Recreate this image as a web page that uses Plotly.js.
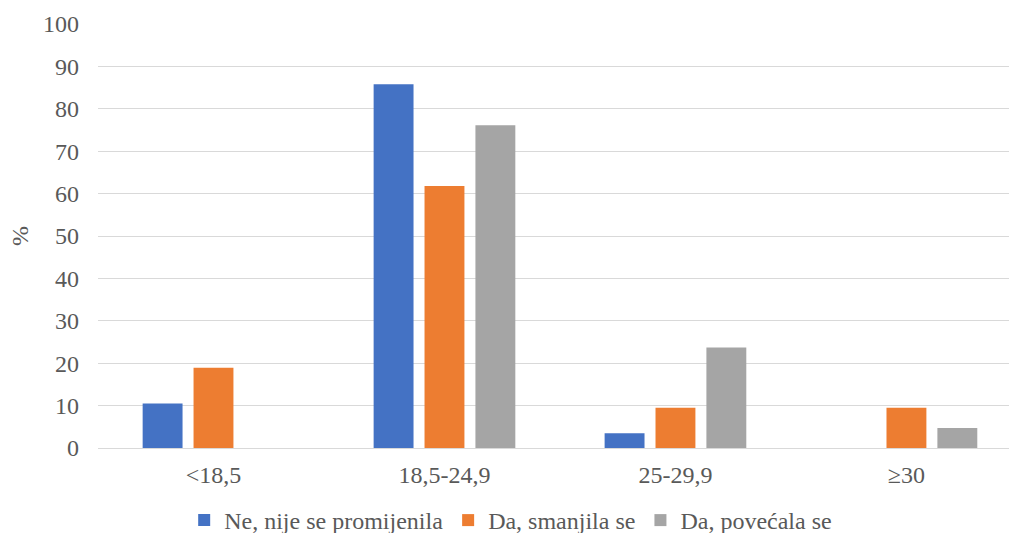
<!DOCTYPE html>
<html>
<head>
<meta charset="utf-8">
<script src="https://cdn.plot.ly/plotly-3.0.1.min.js"></script>
<style>html,body{margin:0;padding:0;background:#fff;overflow:hidden}#chart{width:1009px;height:533px}</style>
</head>
<body>
<div id="chart"></div>
<script>
const categories = ['<18,5', '18,5-24,9', '25-29,9', '≥30'];
const seriesNames = ['Ne, nije se promijenila', 'Da, smanjila se', 'Da, povećala se'];
const neNijeSePromijenila = [10.5, 85.8, 3.5, null];
const daSmanjilaSe = [18.9, 61.8, 9.5, 9.5];
const daPovecalaSe = [null, 76.1, 23.7, 4.7];
const yTicks = [0, 10, 20, 30, 40, 50, 60, 70, 80, 90, 100];
const colors = ['#4472c4', '#ed7d31', '#a5a5a5'];

const seriesValues = [neNijeSePromijenila, daSmanjilaSe, daPovecalaSe];
const traces = seriesValues.map((vals, i) => ({
  type: 'bar',
  name: seriesNames[i],
  x: categories,
  y: vals,
  marker: {color: colors[i]},
  hoverinfo: 'x+y+name'
}));

const font = {family: 'Liberation Serif, Times New Roman, serif', size: 24, color: '#595959'};

const layout = {
  width: 1009,
  height: 533,
  margin: {l: 98, r: 0, t: 24, b: 85, pad: 0, autoexpand: false},
  paper_bgcolor: '#ffffff',
  plot_bgcolor: '#ffffff',
  font: font,
  barmode: 'group',
  bargap: 0.339,
  bargroupgap: 0.216,
  xaxis: {
    type: 'category',
    range: [-0.5, 3.444],
    showgrid: false,
    showline: false,
    ticks: '',
    ticklabelstandoff: 10,
    tickfont: font,
    fixedrange: true,
    automargin: false
  },
  yaxis: {
    range: [0, 100],
    tickvals: yTicks,
    ticktext: yTicks.map(String),
    showgrid: true,
    gridcolor: '#d9d9d9',
    gridwidth: 1,
    zeroline: true,
    zerolinecolor: '#d9d9d9',
    zerolinewidth: 1,
    showline: false,
    ticks: '',
    ticklabelstandoff: 18,
    tickfont: font,
    title: {text: '%', font: font, standoff: 7},
    fixedrange: true,
    automargin: true
  },
  legend: {
    orientation: 'h',
    x: 0.453,
    xanchor: 'center',
    y: -0.171,
    yanchor: 'middle',
    font: font,
    bgcolor: 'rgba(0,0,0,0)'
  },
  showlegend: true
};

Plotly.newPlot('chart', traces, layout, {displayModeBar: false, staticPlot: true});
</script>
</body>
</html>
